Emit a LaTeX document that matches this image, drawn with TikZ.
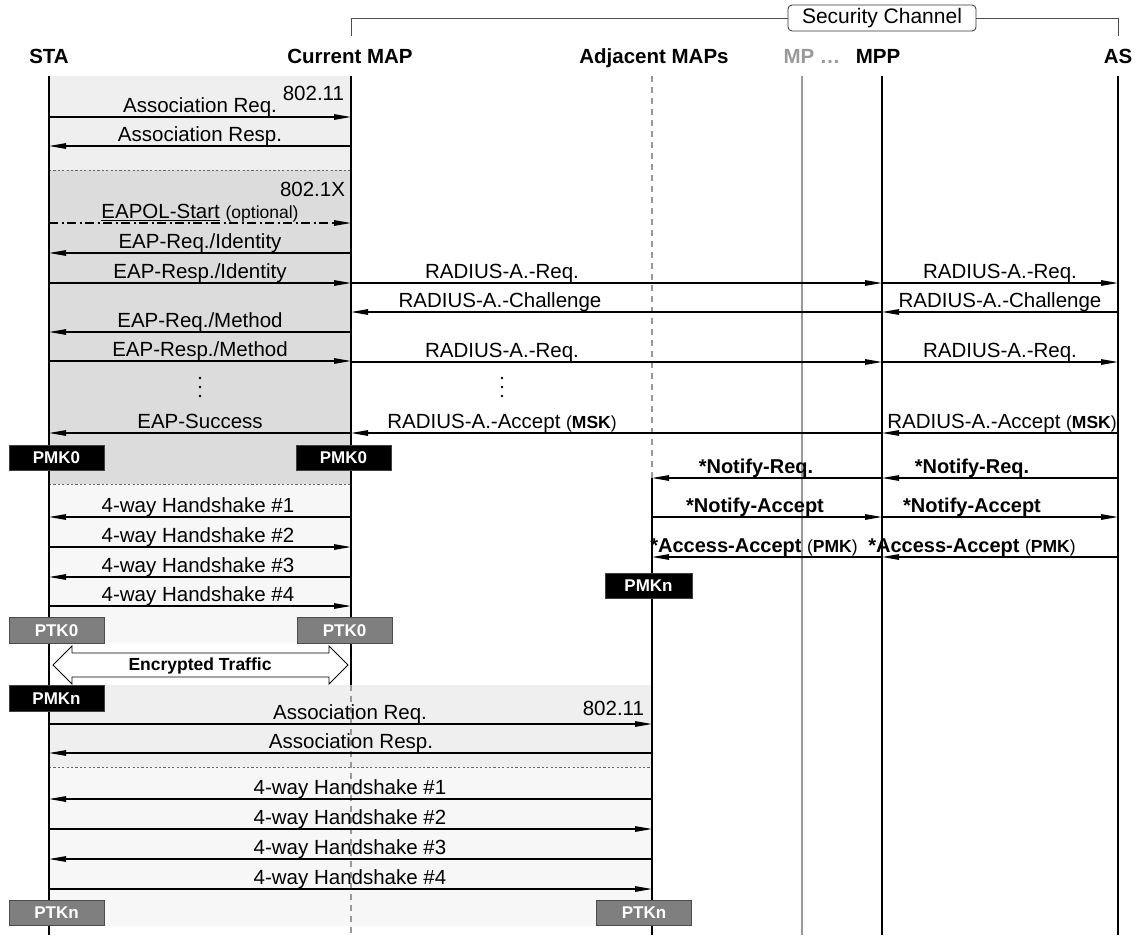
\documentclass[tikz,border=0pt]{standalone}
\usepackage{fontspec}
\setmainfont{Liberation Sans}
\usetikzlibrary{arrows.meta}
\definecolor{shA}{HTML}{EFEFEF}
\definecolor{shB}{HTML}{DCDCDC}
\definecolor{shC}{HTML}{F7F7F7}
\definecolor{lgray}{HTML}{999999}
\definecolor{keyg}{HTML}{7F7F7F}
\newcommand\smallfs{\fontsize{17.5}{20}\selectfont}
\begin{document}
\begin{tikzpicture}[x=1pt,y=-1pt,
  every node/.style={inner sep=0pt, outer sep=0pt},
  hdr/.style={font=\fontsize{20.5}{24}\selectfont\bfseries, anchor=base},
  lbl/.style={font=\fontsize{20.5}{24}\selectfont, anchor=base},
  blbl/.style={font=\fontsize{20}{24}\selectfont\bfseries, anchor=base},
  msg/.style={line width=1.25pt, -{Triangle[length=17pt,width=5.5pt]}},
  life/.style={line width=1.25pt},
  keybox/.style={fill=black, draw=black!75, line width=0.8pt, text=white,
    font=\fontsize{17}{20}\selectfont\bfseries, minimum width=95pt, minimum height=25.5pt},
  keygray/.style={keybox, fill=keyg, draw=black!70},
  sep/.style={dash pattern=on 2.2pt off 2.2pt, line width=0.6pt, draw=black!60},
]
\useasboundingbox (0,0) rectangle (1142,935);

% lifeline anchors
\coordinate (sta) at (49,76);
\coordinate (cur) at (351,76);
\coordinate (adj) at (652,76);
\coordinate (mp)  at (802,76);
\coordinate (mpp) at (882,76);
\coordinate (as)  at (1118,76);
\coordinate (bot) at (0,935);

% shaded phases
\fill[shA] (sta) rectangle (cur |- 0,170);
\fill[shB] (sta |- 0,170) rectangle (cur |- 0,484);
\fill[shC] (sta |- 0,484) rectangle (cur |- 0,643);
\fill[shA] (sta |- 0,685) rectangle (adj |- 0,767);
\fill[shC] (sta |- 0,767) rectangle (adj |- 0,926);
\draw[sep] (sta |- 0,170) -- (cur |- 0,170);
\draw[sep] (sta |- 0,484) -- (cur |- 0,484);
\draw[sep] (sta |- 0,767) -- (adj |- 0,767);

% headers
\node[hdr] (hsta) at (49,63) {STA};
\node[hdr] (hcur) at (350,63) {Current MAP};
\node[hdr] (hadj) at (654,63) {Adjacent MAPs};
\node[hdr, text=lgray] (hmp) at (812,63) {MP …};
\node[hdr] (hmpp) at (878,63) {MPP};
\node[hdr] (has) at (1118,63) {AS};

% security channel bracket
\node[draw=black!80, line width=0.8pt, fill=white, rounded corners=4pt,
  minimum width=188pt, minimum height=26pt, font=\fontsize{21}{24}\selectfont]
  (sec) at (882,18) {Security Channel};
\draw[black!70, line width=0.9pt] (sec.west) -| (cur |- 0,36);
\draw[black!70, line width=0.9pt] (sec.east) -| (as |- 0,36);

% lifelines
\draw[life] (sta) -- (sta |- bot);
\draw[life] (cur) -- (cur |- 0,685);
\draw[life, lgray, dash pattern=on 6pt off 5pt] (cur |- 0,685) -- (cur |- bot);
\draw[life, lgray, dash pattern=on 6pt off 5pt] (adj) -- (adj |- 0,478);
\draw[life] (adj |- 0,478) -- (adj |- bot);
\draw[life, lgray] (mp) -- (mp |- bot);
\draw[life] (mpp) -- (mpp |- bot);
\draw[life] (as) -- (as |- bot);

% 802.11 association
\node[lbl, anchor=base east] (t80211a) at (344,100) {802.11};
\draw[msg] (sta |- 0,117) -- (cur |- 0,117);
\node[lbl] (m1) at (200,112.5) {Association Req.};
\draw[msg] (cur |- 0,146) -- (sta |- 0,146);
\node[lbl] (m2) at (200,141.5) {Association Resp.};

% 802.1X authentication
\node[lbl, anchor=base east] (t8021x) at (345,196) {802.1X};
\draw[msg, dash pattern=on 9pt off 3.5pt on 2pt off 3.5pt] (sta |- 0,223) -- (cur |- 0,223);
\node[lbl] (m3) at (200,218.5) {\underline{EAPOL-Start} {\smallfs(optional)}};
\draw[msg] (cur |- 0,253) -- (sta |- 0,253);
\node[lbl] (m4) at (200,248.5) {EAP-Req./Identity};
\draw[msg] (sta |- 0,283) -- (cur |- 0,283);
\node[lbl] (m5) at (200,278.5) {EAP-Resp./Identity};
\draw[msg] (cur |- 0,283) -- (mpp |- 0,283);
\node[lbl] (r1) at (502,278.5) {RADIUS-A.-Req.};
\draw[msg] (mpp |- 0,283) -- (as |- 0,283);
\node[lbl] (r2) at (1000,278.5) {RADIUS-A.-Req.};
\draw[msg] (as |- 0,312) -- (mpp |- 0,312);
\node[lbl] (r3) at (1000,307.5) {RADIUS-A.-Challenge};
\draw[msg] (mpp |- 0,312) -- (cur |- 0,312);
\node[lbl] (r4) at (500,307.5) {RADIUS-A.-Challenge};
\draw[msg] (cur |- 0,332) -- (sta |- 0,332);
\node[lbl] (m6) at (200,327.5) {EAP-Req./Method};
\draw[msg] (sta |- 0,361) -- (cur |- 0,361);
\node[lbl] (m7) at (200,356.5) {EAP-Resp./Method};
\draw[msg] (cur |- 0,362) -- (mpp |- 0,362);
\node[lbl] (r5) at (502,357.5) {RADIUS-A.-Req.};
\draw[msg] (mpp |- 0,362) -- (as |- 0,362);
\node[lbl] (r6) at (1000,357.5) {RADIUS-A.-Req.};
\foreach \yy in {378,387,396} {
  \fill (200,\yy) circle (1.3pt);
  \fill (502,\yy) circle (1.3pt);
}
\draw[msg] (cur |- 0,433) -- (sta |- 0,433);
\node[lbl] (m8) at (200,428.5) {EAP-Success};
\draw[msg] (mpp |- 0,433) -- (cur |- 0,433);
\node[lbl] (r7) at (502,428.5) {RADIUS-A.-Accept {\smallfs(\textbf{MSK})}};
\draw[msg] (as |- 0,433) -- (mpp |- 0,433);
\node[lbl] (r8) at (1002,428.5) {RADIUS-A.-Accept {\smallfs(\textbf{MSK})}};

% PMK0 on both sides
\node[keybox] (pmkS) at (56.5,458) {PMK0};
\node[keybox] (pmkC) at (343.5,458) {PMK0};

% key distribution to the adjacent MAPs
\draw[msg] (as |- 0,478) -- (mpp |- 0,478);
\node[blbl] (n1) at (972,473.5) {*Notify-Req.};
\draw[msg] (mpp |- 0,478) -- (adj |- 0,478);
\node[blbl] (n2) at (756,473.5) {*Notify-Req.};
\draw[msg] (adj |- 0,517) -- (mpp |- 0,517);
\node[blbl] (n3) at (755,512.5) {*Notify-Accept};
\draw[msg] (mpp |- 0,517) -- (as |- 0,517);
\node[blbl] (n4) at (972,512.5) {*Notify-Accept};
\draw[msg] (as |- 0,557) -- (mpp |- 0,557);
\node[blbl] (n5) at (972,552.5) {*Access-Accept {\smallfs\mdseries(\textbf{PMK})}};
\draw[msg] (mpp |- 0,557) -- (adj |- 0,557);
\node[blbl] (n6) at (754,552.5) {*Access-Accept {\smallfs\mdseries(\textbf{PMK})}};
\node[keybox, minimum width=87pt] (pmkA) at (648.5,586) {PMKn};

% 4-way handshake with the current MAP
\draw[msg] (cur |- 0,517) -- (sta |- 0,517);
\node[lbl] (h1) at (198,512.5) {4-way Handshake \#1};
\draw[msg] (sta |- 0,547) -- (cur |- 0,547);
\node[lbl] (h2) at (198,542.5) {4-way Handshake \#2};
\draw[msg] (cur |- 0,577) -- (sta |- 0,577);
\node[lbl] (h3) at (198,572.5) {4-way Handshake \#3};
\draw[msg] (sta |- 0,606) -- (cur |- 0,606);
\node[lbl] (h4) at (198,601.5) {4-way Handshake \#4};
\node[keygray] (ptkS) at (56.5,630.5) {PTK0};
\node[keygray] (ptkC) at (344.5,630.5) {PTK0};

% encrypted traffic
\draw[fill=white, line width=0.9pt, line join=miter]
  (53,665) -- (72,646) -- (72,653) -- (329,653) -- (329,646) -- (348,665)
  -- (329,684) -- (329,677) -- (72,677) -- (72,684) -- cycle;
\node[font=\fontsize{17.5}{20}\selectfont\bfseries] (enc) at (200,665.5) {Encrypted Traffic};

% re-association with an adjacent MAP
\node[keybox] (pmkS2) at (56.5,698.5) {PMKn};
\node[lbl, anchor=base east] (t80211b) at (644,715) {802.11};
\draw[msg] (sta |- 0,724) -- (adj |- 0,724);
\node[lbl] (a1) at (350,719.5) {Association Req.};
\draw[msg] (adj |- 0,753) -- (sta |- 0,753);
\node[lbl] (a2) at (351,748.5) {Association Resp.};
\draw[msg] (adj |- 0,799) -- (sta |- 0,799);
\node[lbl] (g1) at (350,794.5) {4-way Handshake \#1};
\draw[msg] (sta |- 0,829) -- (adj |- 0,829);
\node[lbl] (g2) at (350,824.5) {4-way Handshake \#2};
\draw[msg] (adj |- 0,859) -- (sta |- 0,859);
\node[lbl] (g3) at (350,854.5) {4-way Handshake \#3};
\draw[msg] (sta |- 0,889) -- (adj |- 0,889);
\node[lbl] (g4) at (350,884.5) {4-way Handshake \#4};
\node[keygray] (ptkS2) at (56.5,913) {PTKn};
\node[keygray] (ptkA) at (644,913) {PTKn};
\end{tikzpicture}
\end{document}
